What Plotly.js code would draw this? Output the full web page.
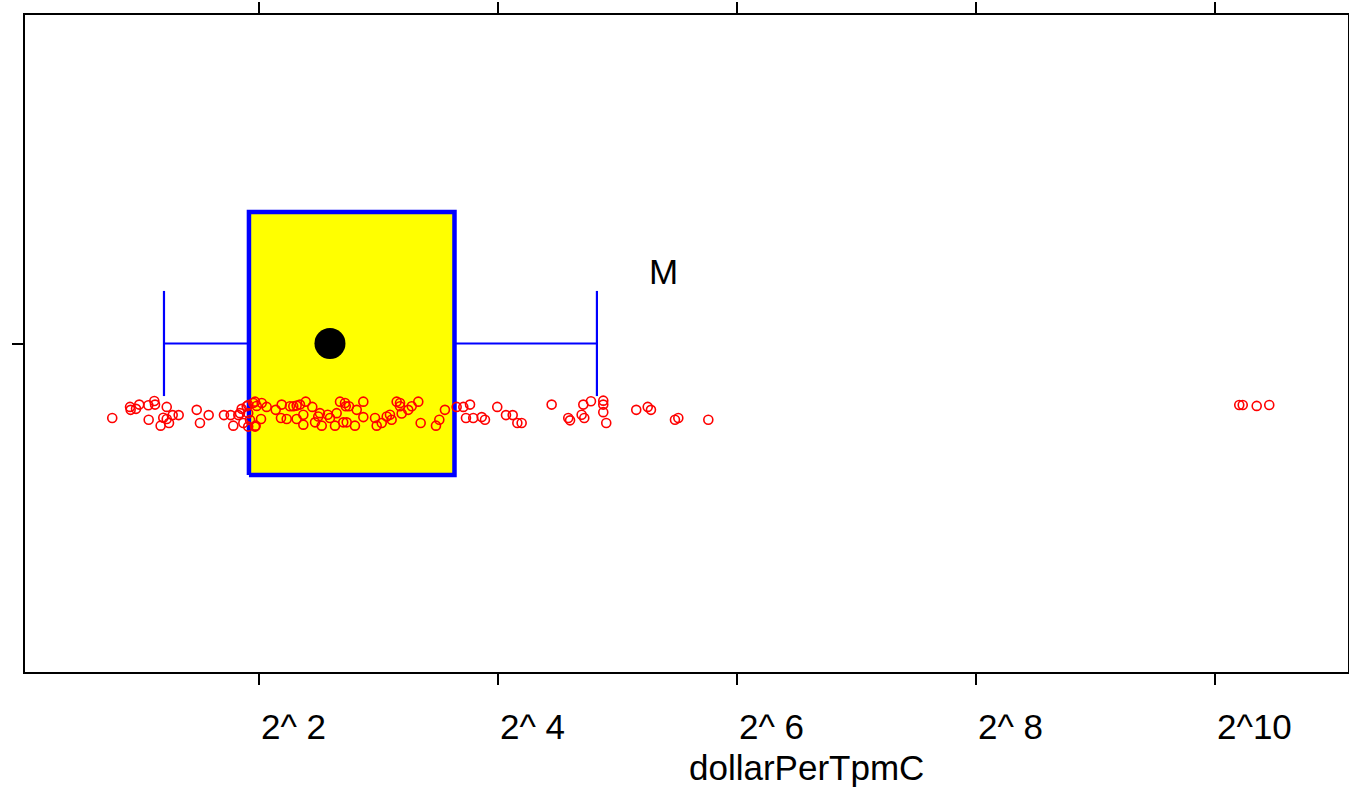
<!DOCTYPE html>
<html>
<head>
<meta charset="utf-8">
<script src="https://cdn.plot.ly/plotly-3.0.1.min.js"></script>
<style>html,body{margin:0;padding:0;background:#fff;}#chart{width:1349px;height:789px;}</style>
</head>
<body>
<div id="chart"></div>
<script>
const log2Dollar = [
  0.772,0.921,0.926,0.971,0.998,1.074,1.124,1.130,1.228,1.077,
  1.199,1.228,1.278,1.328,1.177,1.247,1.479,1.579,1.506,1.707,
  1.763,1.827,1.785,1.855,1.897,1.869,1.910,1.925,1.910,1.952,
  1.967,1.967,1.841,1.910,1.981,2.017,1.972,2.023,2.064,2.140,
  2.190,2.184,2.232,2.259,2.287,2.315,2.343,2.315,2.371,2.371,
  2.391,2.446,2.469,2.496,2.525,2.510,2.575,2.594,2.650,2.636,
  2.678,2.720,2.726,2.753,2.705,2.734,2.803,2.818,2.873,2.873,
  2.971,2.985,3.027,3.069,3.096,3.110,3.152,3.180,3.180,3.194,
  3.249,3.278,3.333,3.353,3.481,3.509,3.556,3.654,3.710,3.766,
  3.732,3.793,3.864,3.891,3.994,4.067,4.123,4.162,4.198,4.449,
  4.588,4.603,4.700,4.722,4.714,4.778,4.881,4.881,4.881,4.906,
  5.157,5.253,5.280,5.481,5.509,5.760,10.203,10.232,10.349,10.454
];
// vertical jitter of each observation
const jitterY = [
  -0.227,-0.193,-0.202,-0.199,-0.186,-0.188,-0.175,-0.186,-0.193,-0.232,
  -0.226,-0.230,-0.218,-0.218,-0.250,-0.242,-0.202,-0.218,-0.242,-0.218,
  -0.218,-0.218,-0.250,-0.199,-0.191,-0.242,-0.212,-0.233,-0.253,-0.181,
  -0.177,-0.253,-0.212,-0.187,-0.190,-0.230,-0.250,-0.181,-0.193,-0.202,
  -0.186,-0.227,-0.230,-0.191,-0.191,-0.189,-0.186,-0.230,-0.217,-0.247,
  -0.177,-0.193,-0.240,-0.222,-0.250,-0.212,-0.217,-0.227,-0.212,-0.250,
  -0.177,-0.181,-0.191,-0.191,-0.240,-0.240,-0.250,-0.202,-0.177,-0.224,
  -0.227,-0.250,-0.242,-0.222,-0.217,-0.232,-0.177,-0.181,-0.191,-0.213,
  -0.202,-0.191,-0.177,-0.242,-0.250,-0.232,-0.202,-0.193,-0.193,-0.186,
  -0.227,-0.227,-0.224,-0.232,-0.193,-0.218,-0.218,-0.242,-0.242,-0.186,
  -0.227,-0.234,-0.217,-0.227,-0.186,-0.176,-0.174,-0.186,-0.209,-0.242,
  -0.202,-0.193,-0.202,-0.232,-0.227,-0.232,-0.187,-0.187,-0.190,-0.187
];
// box statistics (log2 scale)
const boxStats = [1.205, 1.916, 2.594, 3.636, 4.828]; // lower whisker, q1, median, q3, upper whisker
const tickVals = [2, 4, 6, 8, 10];
const tickLabels = ['2^ 2', '2^ 4', '2^ 6', '2^ 8', '2^10'];
const axisTitle = 'dollarPerTpmC';
const groupLabel = 'M';
const groupLabelPos = [5.25];

const [lw, q1, med, q3, uw] = boxStats;
const bh = 0.4, cap = 0.16;
const FONT = 'Liberation Sans, Arial, sans-serif';

const traces = [
  { type: 'scatter', mode: 'lines', x: [q1, q3, q3, q1, q1], y: [-bh, -bh, bh, bh, -bh],
    fill: 'toself', fillcolor: '#ffff00', line: { color: '#0000ff', width: 4.5 }, hoverinfo: 'skip' },
  { type: 'scatter', mode: 'lines',
    x: [lw, q1, null, q3, uw, null, lw, lw, null, uw, uw],
    y: [0, 0, null, 0, 0, null, -cap, cap, null, -cap, cap],
    line: { color: '#0000ff', width: 2.2 }, hoverinfo: 'skip' },
  { type: 'scatter', mode: 'markers', x: [med], y: [0],
    marker: { color: '#000000', size: 31 } },
  { type: 'scatter', mode: 'markers', x: log2Dollar, y: jitterY,
    marker: { symbol: 'circle-open', color: '#ff0000', size: 9, line: { width: 1.6 } } }
];

const annotations = tickVals.map((v, i) => ({
  x: v, xref: 'x', y: -0.0837, yref: 'paper', xanchor: 'left', yanchor: 'middle',
  text: tickLabels[i], showarrow: false, font: { family: FONT, size: 35, color: '#000' }
}));
annotations.push({ x: 0.5, xref: 'paper', y: -0.146, yref: 'paper', xanchor: 'left', yanchor: 'middle',
  text: axisTitle, showarrow: false, font: { family: FONT, size: 35, color: '#000' } });
annotations.push({ x: groupLabelPos[0], xref: 'x', y: 0.61, yref: 'paper', xanchor: 'left', yanchor: 'middle',
  text: groupLabel, showarrow: false, font: { family: FONT, size: 35, color: '#000' } });

const layout = {
  width: 1349, height: 789,
  margin: { l: 25, r: 1, t: 15, b: 117, pad: 0 },
  paper_bgcolor: '#ffffff', plot_bgcolor: '#ffffff',
  showlegend: false,
  xaxis: { range: [0.042, 11.113], tickvals: tickVals, ticktext: tickVals.map(() => ''),
    ticks: 'outside', ticklen: 11, tickwidth: 2, tickcolor: '#000',
    showline: true, linewidth: 2, linecolor: '#000', mirror: 'ticks',
    showgrid: false, zeroline: false, automargin: false, fixedrange: true },
  yaxis: { range: [-1, 1], tickvals: [0], ticktext: [''],
    ticks: 'outside', ticklen: 11, tickwidth: 2, tickcolor: '#000',
    showline: true, linewidth: 2, linecolor: '#000', mirror: 'ticks',
    showgrid: false, zeroline: false, automargin: false, fixedrange: true },
  annotations: annotations,
  hovermode: false
};

Plotly.newPlot('chart', traces, layout, { displayModeBar: false, staticPlot: true });
</script>
</body>
</html>
